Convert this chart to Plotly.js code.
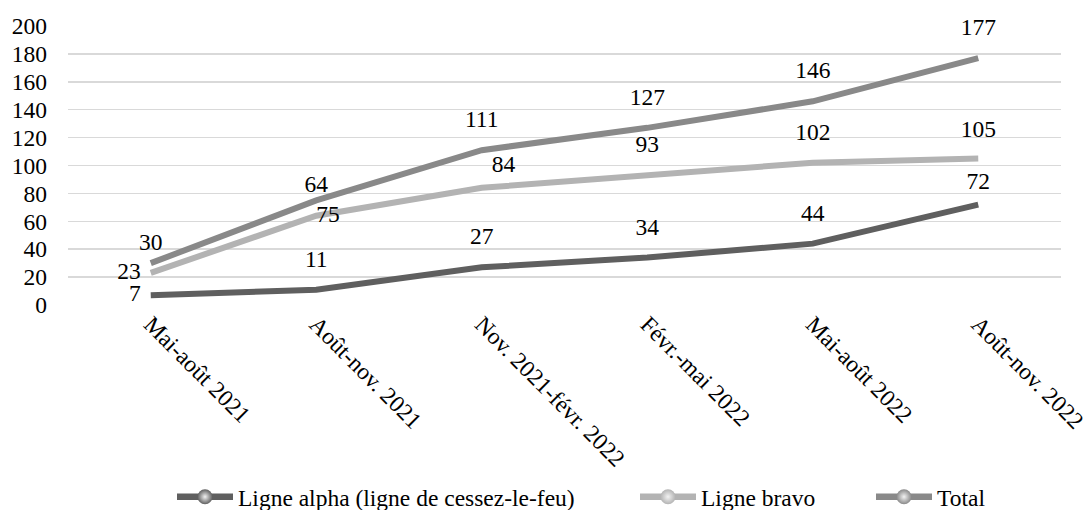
<!DOCTYPE html>
<html>
<head>
<meta charset="utf-8">
<script src="https://cdn.plot.ly/plotly-3.0.1.min.js"></script>
<style>html,body{margin:0;padding:0;background:#fff;}#chart{width:1091px;height:510px;}</style>
</head>
<body>
<div id="chart"></div>
<script>
// ---- data ----
const categories = ["Mai-août 2021", "Août-nov. 2021", "Nov. 2021-févr. 2022", "Févr.-mai 2022", "Mai-août 2022", "Août-nov. 2022"];
const alphaName = "Ligne alpha (ligne de cessez-le-feu)";
const bravoName = "Ligne bravo";
const totalName = "Total";
const alphaValues = [7, 11, 27, 34, 44, 72];
const bravoValues = [23, 64, 84, 93, 102, 105];
const totalValues = [30, 75, 111, 127, 146, 177];
// data labels as printed on the reference
const alphaLabels = ["7", "11", "27", "34", "44", "72"];
const bravoLabels = ["23", "75", "84", "93", "102", "105"];
const totalLabels = ["30", "64", "111", "127", "146", "177"];
const yTicks = [0, 20, 40, 60, 80, 100, 120, 140, 160, 180, 200];

// ---- style ----
const FONT = "Liberation Serif";
const FS = 23.5;
const colors = { alpha: "#5f5f5f", bravo: "#b3b3b3", total: "#898989" };
// label offsets (px from point) -> invisible marker sizes that plotly uses to offset text
function gap(r) { return r <= 0 ? 0 : (r - 1) * 1.6; }

function seriesTrace(name, values, labels, color, positions, offsets) {
  return {
    type: "scatter",
    mode: "lines+markers+text",
    name: name,
    x: categories,
    y: values,
    text: labels,
    textposition: positions,
    textfont: { family: FONT, size: FS, color: "#000" },
    line: { color: color, width: 6 },
    marker: { size: offsets.map(gap), opacity: 0, color: color },
    hoverinfo: "skip",
    showlegend: false,
    cliponaxis: false
  };
}
function legendTrace(name, color, legendId) {
  return {
    type: "scatter",
    mode: "lines+markers",
    name: name,
    x: [null],
    y: [null],
    line: { color: color, width: 6.5 },
    marker: { size: 15, color: color, gradient: { type: "radial", color: "#f2f2f2" } },
    legend: legendId,
    showlegend: true,
    hoverinfo: "skip"
  };
}

const traces = [
  seriesTrace(alphaName, alphaValues, alphaLabels, colors.alpha,
    ["middle left","top center","top center","top center","top center","top center"],
    [10, 17, 17, 17, 17, 10]),
  seriesTrace(bravoName, bravoValues, bravoLabels, colors.bravo,
    ["middle left","middle right","top right","top center","top center","top center"],
    [10, 0, 10, 17, 17, 16]),
  seriesTrace(totalName, totalValues, totalLabels, colors.total,
    ["top center","top center","top center","top center","top center","top center"],
    [7, 3, 17, 17, 17, 17]),
  legendTrace(alphaName, colors.alpha, "legend"),
  legendTrace(bravoName, colors.bravo, "legend2"),
  legendTrace(totalName, colors.total, "legend3")
];

const W = 1091, H = 510;
const plotL = 68, plotR = 1061, plotT = 26, plotB = 305;
function lx(px) { return px / W; }
const legY = (H - 497) / H;
const legCommon = {
  orientation: "h", yanchor: "middle", xanchor: "left", y: legY,
  xref: "container", yref: "container",
  font: { family: FONT, size: FS, color: "#000" },
  bgcolor: "rgba(0,0,0,0)", itemwidth: 56
};

const layout = {
  width: W, height: H,
  margin: { l: plotL, r: W - plotR, t: plotT, b: H - plotB },
  paper_bgcolor: "#fff", plot_bgcolor: "#fff",
  font: { family: FONT, size: FS, color: "#000" },
  showlegend: true,
  xaxis: {
    type: "category", range: [-0.5, 5.5], automargin: false,
    tickangle: 45, showgrid: false, zeroline: false, showline: false,
    ticks: "", tickfont: { family: FONT, size: FS, color: "#000" }
  },
  yaxis: {
    range: [0, 200], tickvals: yTicks, ticktext: yTicks.map(String), automargin: false,
    showgrid: true, gridcolor: "#d9d9d9", gridwidth: 1.5,
    zeroline: false, showline: false, ticks: "",
    ticklabelstandoff: 20,
    tickfont: { family: FONT, size: FS, color: "#000" }
  },
  legend: Object.assign({}, legCommon, { x: lx(172) }),
  legend2: Object.assign({}, legCommon, { x: lx(635) }),
  legend3: Object.assign({}, legCommon, { x: lx(871) })
};

Plotly.newPlot("chart", traces, layout, { displayModeBar: false, staticPlot: true });
</script>
</body>
</html>
